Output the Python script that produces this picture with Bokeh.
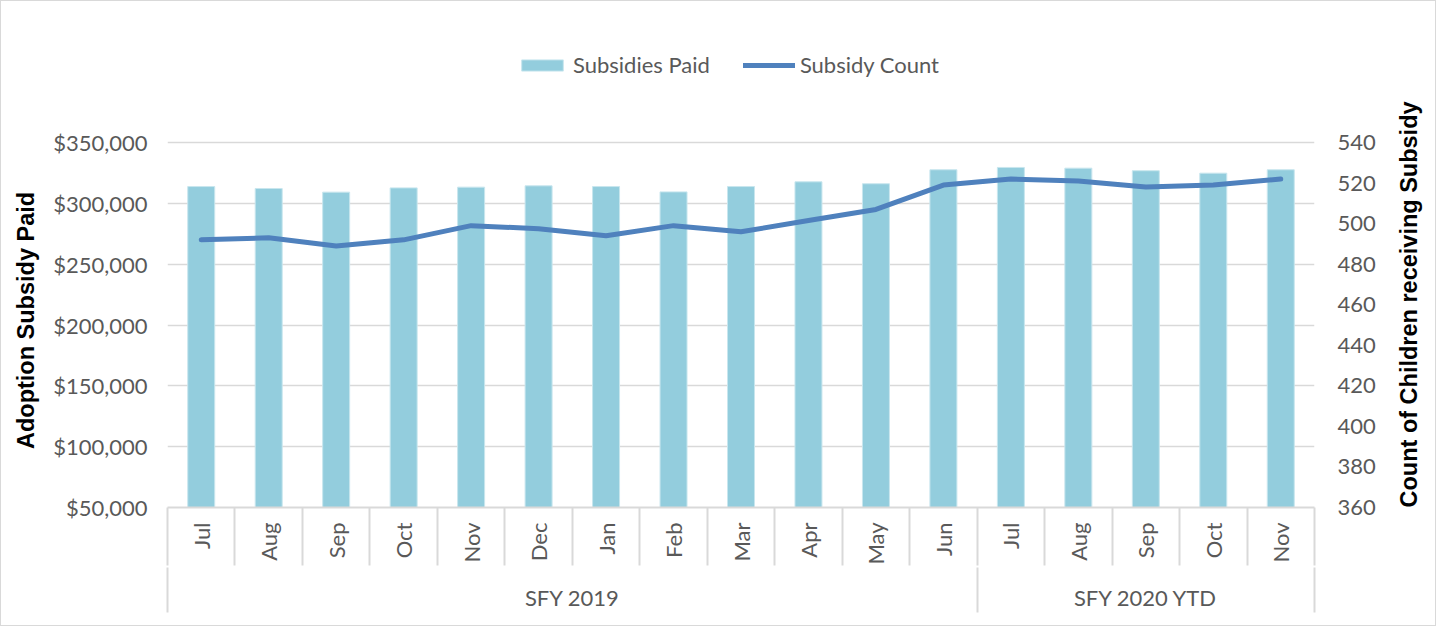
import math
from bokeh.plotting import figure
from bokeh.models import (Range1d, LinearAxis, FixedTicker, NumeralTickFormatter,
                          Legend, LegendItem, ColumnDataSource, Title)
from bokeh.embed import file_html
from bokeh.resources import INLINE

# ---------------- data ----------------
months = ["Jul", "Aug", "Sep", "Oct", "Nov", "Dec", "Jan", "Feb", "Mar", "Apr", "May", "Jun",
          "Jul", "Aug", "Sep", "Oct", "Nov"]
fiscal_years = ["SFY 2019", "SFY 2020 YTD"]
months_per_year = [12, 5]
subsidies_paid = [313800, 312200, 309200, 312700, 313300, 314400, 313800, 309400, 313800,
                  317700, 316100, 327600, 329500, 328900, 326800, 324800, 327600]
subsidy_count = [492, 493, 489, 492, 499, 497.5, 494, 499, 496, 501.5, 507, 519,
                 522, 521, 518, 519, 522]
paid_ticks = [50000, 100000, 150000, 200000, 250000, 300000, 350000]
count_ticks = [360, 380, 400, 420, 440, 460, 480, 500, 520, 540]

# ---------------- styles / layout ----------------
TICK_FONT = "Lato"
TICK_COLOR = "#595959"
GRID = "#d9d9d9"
BAR = "#93cddd"
LINE = "#4f81bd"
TICK_SIZE = "22px"
TITLE_SIZE = "23.5px"

W, H = 1436, 626
BORDER_L, BORDER_R, BORDER_B = 164, 120, 120
DATA_PX = 365          # pixel height of the tick span
EXTRA_PX = 94          # room above the top tick for the legend
BORDER_T = H - BORDER_B - DATA_PX - EXTRA_PX

paid_per_px = (paid_ticks[-1] - paid_ticks[0]) / DATA_PX
count_per_px = (count_ticks[-1] - count_ticks[0]) / DATA_PX

x = list(range(len(months)))
src = ColumnDataSource(dict(x=x, paid=subsidies_paid, count=subsidy_count))

p = figure(width=W, height=H,
           x_range=Range1d(-0.5, len(months) - 0.5),
           y_range=Range1d(paid_ticks[0], paid_ticks[-1] + EXTRA_PX * paid_per_px),
           output_backend="svg", toolbar_location=None,
           min_border_left=BORDER_L, min_border_right=BORDER_R,
           min_border_top=BORDER_T, min_border_bottom=BORDER_B)
p.outline_line_color = None
p.styles = {"border": "1px solid #d9d9d9"}
p.extra_y_ranges = {"count": Range1d(count_ticks[0], count_ticks[-1] + EXTRA_PX * count_per_px)}

p.xgrid.visible = False
p.ygrid.grid_line_color = GRID
p.ygrid.grid_line_width = 1.5

# left axis
ya = p.yaxis[0]
ya.ticker = FixedTicker(ticks=paid_ticks)
ya.formatter = NumeralTickFormatter(format="$0,0")
ya.axis_line_color = None
ya.major_tick_line_color = None
ya.minor_tick_line_color = None
ya.major_tick_out = 0
ya.minor_tick_out = 0
ya.major_label_standoff = 20
ya.major_label_text_font = TICK_FONT
ya.major_label_text_font_size = TICK_SIZE
ya.major_label_text_color = TICK_COLOR

# left title, centred on the tick span (trailing no-break spaces balance the legend room)
p.add_layout(Title(text="Adoption Subsidy Paid" + "\u00a0" * 13,
                   align="center", vertical_align="middle", standoff=21,
                   text_font="Liberation Sans", text_font_style="bold",
                   text_font_size=TITLE_SIZE, text_color="black"), "left")

# right axis (label reads bottom-to-top, starting at the frame bottom)
ra = LinearAxis(y_range_name="count", ticker=FixedTicker(ticks=count_ticks))
ra.axis_line_color = None
ra.major_tick_line_color = None
ra.minor_tick_line_color = None
ra.major_tick_out = 0
ra.minor_tick_out = 0
ra.major_label_standoff = 23
ra.major_label_text_font = TICK_FONT
ra.major_label_text_font_size = TICK_SIZE
ra.major_label_text_color = TICK_COLOR
ra.axis_label = "Count of Children receiving Subsidy"
ra.axis_label_text_font = "Liberation Sans"
ra.axis_label_text_font_style = "bold"
ra.axis_label_text_font_size = TITLE_SIZE
ra.axis_label_text_color = "black"
ra.axis_label_standoff = 30
ra.axis_label_orientation = math.pi / 2
if "axis_label_align" in ra.properties():
    ra.axis_label_align = "start"
p.add_layout(ra, "right")

# bottom axis 1: months with separators
bounds = [i - 0.5 for i in range(len(months) + 1)]
xa = p.xaxis[0]
xa.ticker = FixedTicker(ticks=x, minor_ticks=bounds)
xa.major_label_overrides = {i: m for i, m in enumerate(months)}
xa.major_label_orientation = math.pi / 2
xa.major_tick_out = 0
xa.major_tick_in = 0
xa.major_tick_line_color = None
xa.minor_tick_in = 0
xa.minor_tick_out = 58
xa.minor_tick_line_color = GRID
xa.minor_tick_line_width = 2
xa.axis_line_color = GRID
xa.axis_line_width = 2
xa.major_label_standoff = -43
xa.major_label_text_font = TICK_FONT
xa.major_label_text_font_size = TICK_SIZE
xa.major_label_text_color = TICK_COLOR

# bottom axis 2: fiscal year groups
grp_bounds = [-0.5]
grp_centers = []
start = 0
for n in months_per_year:
    grp_centers.append(start + (n - 1) / 2)
    start += n
    grp_bounds.append(start - 0.5)
ga = LinearAxis(ticker=FixedTicker(ticks=grp_centers, minor_ticks=grp_bounds))
ga.major_label_overrides = {c: fy for c, fy in zip(grp_centers, fiscal_years)}
ga.axis_line_color = None
ga.major_tick_out = 0
ga.major_tick_in = 0
ga.major_tick_line_color = None
ga.minor_tick_in = 0
ga.minor_tick_out = 45
ga.minor_tick_line_color = GRID
ga.minor_tick_line_width = 2
ga.major_label_standoff = -29
ga.major_label_text_font = TICK_FONT
ga.major_label_text_font_size = TICK_SIZE
ga.major_label_text_color = TICK_COLOR
p.add_layout(ga, "below")

# glyphs
bars = p.vbar(x="x", top="paid", width=0.4, source=src, fill_color=BAR,
              line_color="#c8e6ee", line_width=1)
ln = p.line(x="x", y="count", y_range_name="count", source=src, line_color=LINE,
            line_width=5, line_cap="round", line_join="round")

LEG_H = 24
legend = Legend(items=[LegendItem(label="Subsidies Paid", renderers=[bars]),
                       LegendItem(label="Subsidy Count", renderers=[ln])],
                orientation="horizontal",
                location=(349, DATA_PX + EXTRA_PX - 6 - LEG_H),
                glyph_width=52, glyph_height=14, label_standoff=5, spacing=33,
                label_height=LEG_H,
                padding=0, margin=0, border_line_color=None, background_fill_alpha=0,
                label_text_font=TICK_FONT, label_text_font_size=TICK_SIZE,
                label_text_color=TICK_COLOR)
p.add_layout(legend, "center")

open("out.html", "w", encoding="utf-8").write(file_html(p, INLINE))
